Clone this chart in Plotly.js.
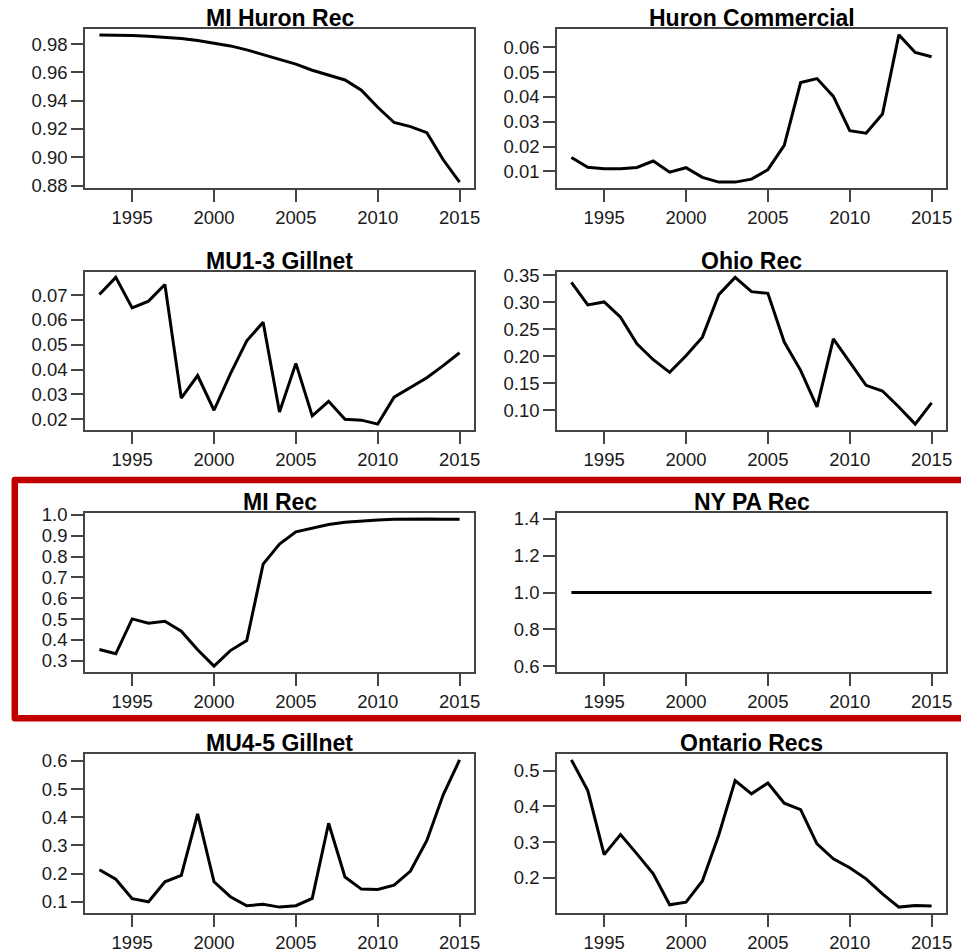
<!DOCTYPE html>
<html>
<head>
<meta charset="utf-8">
<script src="https://cdn.plot.ly/plotly-3.0.1.min.js"></script>
<style>html,body{margin:0;padding:0;background:#fff;}#chart{width:961px;height:952px;}</style>
</head>
<body>
<div id="chart"></div>
<script>
// ---- data ----
const years = [1993,1994,1995,1996,1997,1998,1999,2000,2001,2002,2003,2004,2005,2006,2007,2008,2009,2010,2011,2012,2013,2014,2015];

const panelTitles = ["MI Huron Rec","Huron Commercial","MU1-3 Gillnet","Ohio Rec","MI Rec","NY PA Rec","MU4-5 Gillnet","Ontario Recs"];

const miHuronRec = [0.9866,0.9865,0.9862,0.9857,0.9850,0.9841,0.9827,0.9809,0.9788,0.9760,0.9725,0.9694,0.9659,0.9616,0.9584,0.9547,0.9475,0.9354,0.9246,0.9217,0.9174,0.8982,0.8824];
const huronCommercial = [0.0156,0.0117,0.0111,0.0111,0.0116,0.0142,0.0097,0.0115,0.0076,0.0057,0.0057,0.0069,0.0107,0.0205,0.0458,0.0474,0.0402,0.0264,0.0254,0.0331,0.0650,0.0579,0.0562];
const mu13Gillnet = [0.0703,0.0772,0.0649,0.0676,0.0743,0.0285,0.0376,0.0236,0.0383,0.0516,0.0591,0.0229,0.0425,0.0213,0.0272,0.0200,0.0196,0.0180,0.0289,0.0329,0.0367,0.0416,0.0468];
const ohioRec = [0.3365,0.2947,0.3002,0.2720,0.2229,0.1934,0.1700,0.2007,0.2351,0.3138,0.3457,0.3193,0.3162,0.2260,0.1737,0.1060,0.2320,0.1890,0.1460,0.1355,0.1060,0.0742,0.1134];
const miRec = [0.354,0.3335,0.501,0.480,0.490,0.442,0.353,0.2745,0.349,0.397,0.764,0.860,0.919,0.935,0.954,0.965,0.971,0.976,0.979,0.981,0.981,0.979,0.979];
const nyPaRec = [1,1,1,1,1,1,1,1,1,1,1,1,1,1,1,1,1,1,1,1,1,1,1];
const mu45Gillnet = [0.214,0.180,0.111,0.100,0.171,0.194,0.412,0.171,0.118,0.086,0.091,0.081,0.086,0.112,0.379,0.188,0.145,0.1435,0.159,0.209,0.318,0.480,0.604];
const ontarioRecs = [0.530,0.444,0.265,0.321,0.267,0.211,0.1245,0.132,0.191,0.320,0.472,0.435,0.4655,0.409,0.391,0.295,0.253,0.228,0.197,0.155,0.118,0.1225,0.121];

const xTickVals = [1995,2000,2005,2010,2015];
const xTickText = ["1995","2000","2005","2010","2015"];

const yTickVals1 = [0.88,0.90,0.92,0.94,0.96,0.98];
const yTickText1 = ["0.88","0.90","0.92","0.94","0.96","0.98"];
const yTickVals2 = [0.01,0.02,0.03,0.04,0.05,0.06];
const yTickText2 = ["0.01","0.02","0.03","0.04","0.05","0.06"];
const yTickVals3 = [0.02,0.03,0.04,0.05,0.06,0.07];
const yTickText3 = ["0.02","0.03","0.04","0.05","0.06","0.07"];
const yTickVals4 = [0.10,0.15,0.20,0.25,0.30,0.35];
const yTickText4 = ["0.10","0.15","0.20","0.25","0.30","0.35"];
const yTickVals5 = [0.3,0.4,0.5,0.6,0.7,0.8,0.9,1.0];
const yTickText5 = ["0.3","0.4","0.5","0.6","0.7","0.8","0.9","1.0"];
const yTickVals6 = [0.6,0.8,1.0,1.2,1.4];
const yTickText6 = ["0.6","0.8","1.0","1.2","1.4"];
const yTickVals7 = [0.1,0.2,0.3,0.4,0.5,0.6];
const yTickText7 = ["0.1","0.2","0.3","0.4","0.5","0.6"];
const yTickVals8 = [0.2,0.3,0.4,0.5];
const yTickText8 = ["0.2","0.3","0.4","0.5"];

// ---- build ----
const series = [miHuronRec,huronCommercial,mu13Gillnet,ohioRec,miRec,nyPaRec,mu45Gillnet,ontarioRecs];
const tvals = [yTickVals1,yTickVals2,yTickVals3,yTickVals4,yTickVals5,yTickVals6,yTickVals7,yTickVals8];
const ttext = [yTickText1,yTickText2,yTickText3,yTickText4,yTickText5,yTickText6,yTickText7,yTickText8];

const W = 961, H = 952;
const colPx = [[85,474],[557,946]];
const rowPx = [[29,188],[271.5,430],[513,672],[754,913]];

function padRange(arr){
  let mn = Math.min(...arr), mx = Math.max(...arr);
  if (mx === mn) { mn = mn*0.6; mx = mx*1.4; }
  const r = mx - mn;
  return [mn - 0.04*r, mx + 0.04*r];
}
const xr = padRange(years);

const font = "Liberation Sans, Arial, Helvetica, sans-serif";
const data = [];
const layout = {
  width: W, height: H,
  margin: {l:0, r:0, t:0, b:0},
  paper_bgcolor: "#ffffff", plot_bgcolor: "#ffffff",
  showlegend: false,
  font: {family: font, color: "#1a1a1a"},
  annotations: [],
  shapes: []
};

for (let i = 0; i < 8; i++) {
  const col = i % 2, row = Math.floor(i / 2);
  const n = i + 1;
  const xa = n === 1 ? "x" : "x" + n;
  const ya = n === 1 ? "y" : "y" + n;
  data.push({
    type: "scatter", mode: "lines",
    x: years, y: series[i],
    xaxis: xa, yaxis: ya,
    line: {color: "#000000", width: 3},
    hoverinfo: "x+y"
  });
  const xd = [colPx[col][0]/W, colPx[col][1]/W];
  const yd = [1 - rowPx[row][1]/H, 1 - rowPx[row][0]/H];
  const common = {
    showgrid: false, zeroline: false,
    showline: true, mirror: true, linecolor: "#444444", linewidth: 1.5,
    ticks: "outside", ticklen: 12, tickwidth: 1.5, tickcolor: "#444444",
    tickfont: {family: font, size: 18.5, color: "#1a1a1a"},
    fixedrange: true
  };
  layout[n === 1 ? "xaxis" : "xaxis" + n] = Object.assign({}, common, {
    domain: xd, anchor: ya, range: xr,
    tickmode: "array", tickvals: xTickVals, ticktext: xTickText
  });
  layout[n === 1 ? "yaxis" : "yaxis" + n] = Object.assign({}, common, {
    domain: yd, anchor: xa, range: padRange(series[i]),
    tickmode: "array", tickvals: tvals[i], ticktext: ttext[i]
  });
  layout.annotations.push({
    xref: "paper", yref: "paper",
    x: (xd[0] + xd[1]) / 2, y: yd[1],
    xanchor: "center", yanchor: "bottom", yshift: -4,
    showarrow: false,
    text: "<b>" + panelTitles[i] + "</b>",
    font: {family: font, size: 23, color: "#000000"}
  });
}

// highlight frame around third row
layout.shapes.push({
  type: "rect", xref: "paper", yref: "paper",
  x0: 14.8/W, x1: 980/W, y0: 1 - 718.3/H, y1: 1 - 480/H,
  line: {color: "#C00000", width: 6.5},
  fillcolor: "rgba(0,0,0,0)"
});

Plotly.newPlot("chart", data, layout, {displayModeBar: false, staticPlot: false}).then(function(){
  document.querySelectorAll("#chart .shapelayer path").forEach(function(p){
    p.style.strokeLinejoin = "round";
  });
});
</script>
</body>
</html>
